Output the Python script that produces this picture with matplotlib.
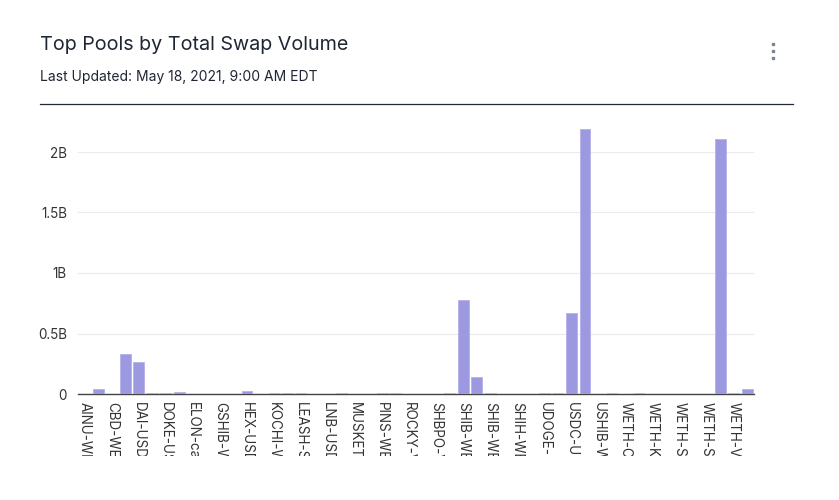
import matplotlib
matplotlib.use("Agg")
import matplotlib.pyplot as plt
from matplotlib.transforms import Bbox, TransformedBbox

plt.rcParams['font.family'] = ['Inter', 'DejaVu Sans']

title = "Top Pools by Total Swap Volume"
subtitle = "Last Updated: May 18, 2021, 9:00 AM EDT"

# 50 pools; only every other name is shown on the axis (others unreadable in the source)
pool_labels = [
    "AINU-WE", "", "CBD-WE", "", "DAI-USD", "", "DOKE-US", "", "ELON-ca", "",
    "GSHIB-W", "", "HEX-USD", "", "KOCHI-W", "", "LEASH-S", "", "LNB-USD", "",
    "MUSKET", "", "PINS-WE", "", "ROCKY-V", "", "SHBPO-V", "", "SHIB-WE", "",
    "SHIB-WE", "", "SHIH-WE", "", "UDOGE-", "", "USDC-US", "", "USHIB-W", "",
    "WETH-C", "", "WETH-K", "", "WETH-SH", "", "WETH-SH", "", "WETH-V", "",
]

# total swap volume in billions
volume_b = [
    0.0, 0.040, 0.0, 0.330, 0.268, 0.005, 0.005, 0.016, 0.0, 0.0,
    0.0, 0.0, 0.027, 0.0, 0.005, 0.005, 0.005, 0.0, 0.0, 0.005,
    0.0, 0.0, 0.005, 0.005, 0.0, 0.0, 0.0, 0.005, 0.777, 0.138,
    0.005, 0.0, 0.0, 0.0, 0.005, 0.005, 0.670, 2.190, 0.0, 0.005,
    0.0, 0.005, 0.0, 0.0, 0.0, 0.0, 0.0, 2.107, 0.005, 0.040,
]

yticks_b = [0, 0.5, 1, 1.5, 2]
ytick_labels = ["0", "0.5B", "1B", "1.5B", "2B"]

W, H = 839, 500
fig = plt.figure(figsize=(W / 100, H / 100), dpi=100)
fig.patch.set_facecolor("white")

# header
fig.text(40 / W, 1 - 45 / H, title, fontsize=14.2, color="#1f2633", va="center", ha="left")
fig.text(40 / W, 1 - 77 / H, subtitle, fontsize=10, color="#1f2633", va="center", ha="left")
fig.add_artist(plt.Line2D([40 / W, 793 / W], [1 - 103.5 / H, 1 - 103.5 / H],
                          transform=fig.transFigure, color="#1f2937", lw=0.9))
for yy in (44, 51, 58):
    fig.add_artist(plt.Line2D([773 / W], [1 - yy / H], transform=fig.transFigure,
                              marker="s", markersize=1.6, color="#7b8494", lw=0))

left, right = 78, 754
bottom_px, top_px = 394, 394 - 2.2 * 121
ax = fig.add_axes([left / W, 1 - bottom_px / H, (right - left) / W, (bottom_px - top_px) / H])
ax.set_facecolor("white")

x = list(range(len(volume_b)))
vals = [v * 1e9 for v in volume_b]
ax.bar(x, vals, width=0.8, color="#9d99e1", edgecolor="#b4b1ec", linewidth=0.6, zorder=3)

ax.set_xlim(-0.5, len(volume_b) - 0.5)
ax.set_ylim(0, 2.2e9)
ax.set_yticks([v * 1e9 for v in yticks_b])
ax.set_yticklabels(ytick_labels)
ax.set_xticks(x)
ax.set_xticklabels(pool_labels, rotation=270, ha="center", va="top")

for s in ("top", "right", "left"):
    ax.spines[s].set_visible(False)
ax.spines["bottom"].set_color("#444444")
ax.spines["bottom"].set_linewidth(1.0)
ax.spines["bottom"].set_zorder(2)

ax.grid(axis="y", color="#ebebeb", lw=0.8, zorder=0)
ax.tick_params(axis="both", length=0, labelsize=9.7, colors="#333333")
ax.tick_params(axis="y", pad=8)
ax.tick_params(axis="x", pad=6)

clip = Bbox.from_extents(0, 1 - 456 / H, 1, 1)
clipbox = TransformedBbox(clip, fig.transFigure)
for lab in ax.get_xticklabels():
    lab.set_clip_box(clipbox)
    lab.set_clip_on(True)

fig.savefig("out.png", dpi=100, facecolor="white")
